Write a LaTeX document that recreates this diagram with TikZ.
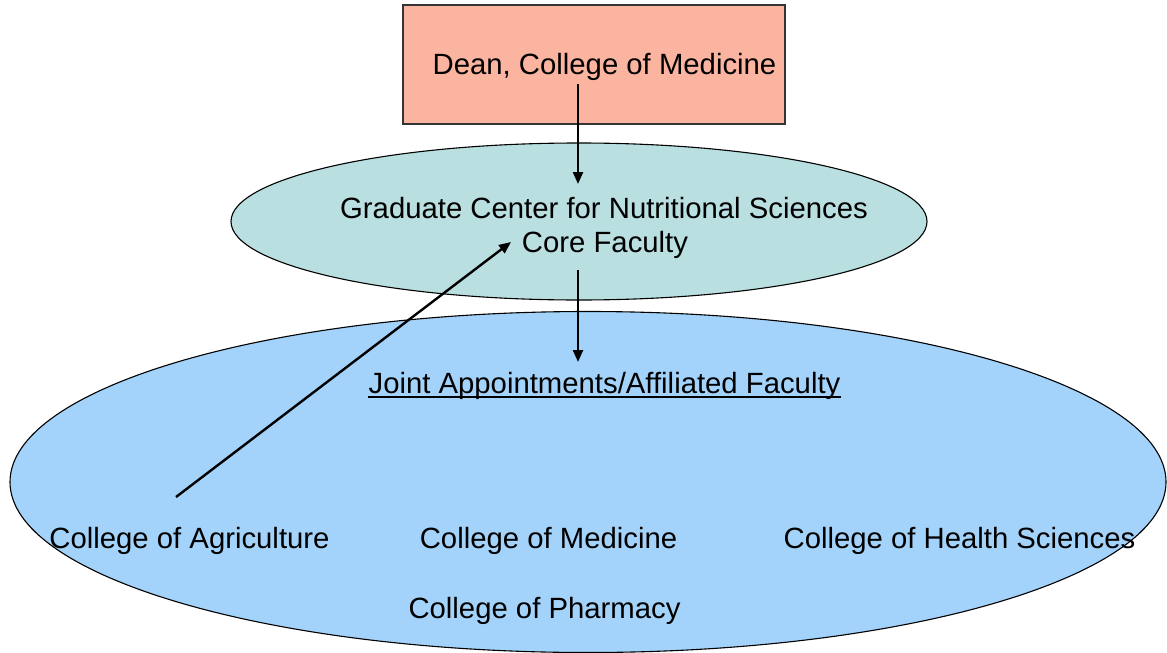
\documentclass[tikz,border=0pt]{standalone}
\usepackage{fontspec}
\setmainfont{Liberation Sans}
\usetikzlibrary{shapes.geometric,arrows.meta}
\definecolor{salmon}{HTML}{FBB4A0}
\definecolor{teal1}{HTML}{B9DFE1}
\definecolor{blue1}{HTML}{A3D3FA}
\begin{document}
\begin{tikzpicture}[x=1pt,y=-1pt,
  lbl/.style={font=\fontsize{29.3}{34}\selectfont, inner sep=0pt, anchor=base},
  arr/.style={-{Triangle[length=12pt,width=10pt]}, line width=2.4pt},
  shp/.style={draw=black, line width=1.1pt}]
\useasboundingbox (0,0) rectangle (1167,653);
% shapes
\node[shp, fill=blue1, ellipse, minimum width=1156pt, minimum height=341pt, inner sep=0pt] (big) at (588,482) {};
\node[shp, fill=teal1, ellipse, minimum width=696pt, minimum height=157pt, inner sep=0pt] (mid) at (579,221.5) {};
\node[shp, draw=black!80, fill=salmon, rectangle, minimum width=382pt, minimum height=119pt, inner sep=0pt] (dean) at (594,64.5) {};
% texts
\node[lbl] (deantxt) at (604.5,74) {Dean, College of Medicine};
\node[lbl] (gc) at (604,218) {Graduate Center for Nutritional Sciences};
\node[lbl] (cf) at (605,252) {Core Faculty};
\node[lbl] (ja) at (604.5,393) {Joint Appointments/Affiliated Faculty};
\draw[line width=2pt] ([yshift=-4pt]ja.base west) -- ([yshift=-4pt]ja.base east);
\node[lbl] (agr) at (189.5,548) {College of Agriculture};
\node[lbl] (med) at (548.5,548) {College of Medicine};
\node[lbl] (hs) at (959.5,548) {College of Health Sciences};
\node[lbl] (ph) at (544.5,618) {College of Pharmacy};
% connectors
\coordinate (a1s) at (578,84);
\coordinate (a1e) at (578,184);
\coordinate (a2s) at (578,270);
\coordinate (a2e) at (578,362);
\coordinate (a3s) at (176,497);
\coordinate (a3e) at (511,242);
\draw[arr] (a1s) -- (a1e);
\draw[arr] (a2s) -- (a2e);
\draw[arr] (a3s) -- (a3e);
\end{tikzpicture}
\end{document}
